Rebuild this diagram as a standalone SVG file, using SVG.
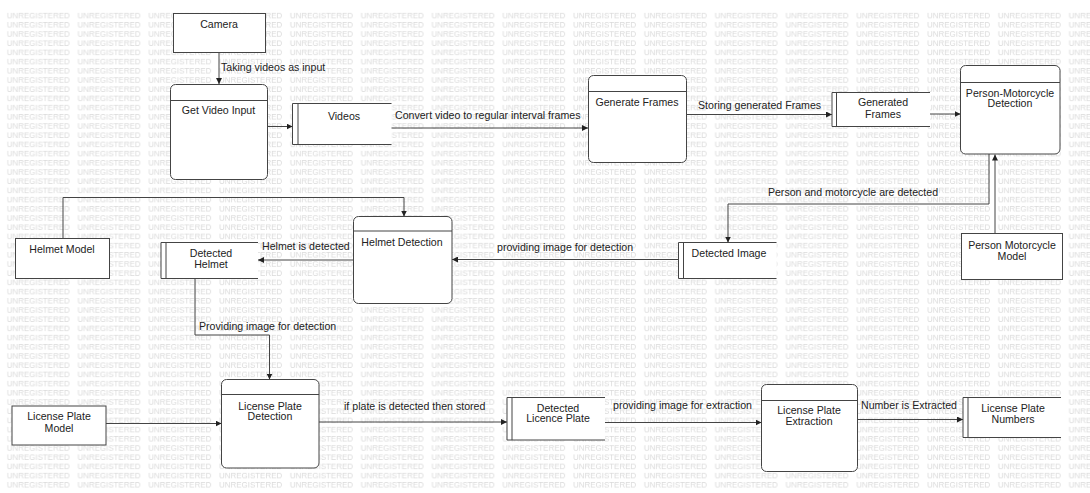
<svg xmlns="http://www.w3.org/2000/svg" width="1090" height="493" viewBox="0 0 1090 493">
<style>
.wm{font-family:"Liberation Sans",Arial,sans-serif;font-size:8px;fill:#dadada}
.t{font-family:"Liberation Sans",Arial,sans-serif;font-size:10.6px;fill:#222}
.c{text-anchor:middle}
.box{fill:#fff;stroke:#444;stroke-width:1}
.ln{fill:none;stroke:#444;stroke-width:1}
.edge{fill:none;stroke:#444;stroke-width:1;marker-end:url(#ah)}
</style>
<defs>
<marker id="ah" markerWidth="7" markerHeight="6" refX="6" refY="3" orient="auto" markerUnits="userSpaceOnUse">
<path d="M0,0 L6,3 L0,6 z" fill="#222"/>
</marker>
<pattern id="wmp" patternUnits="userSpaceOnUse" x="6.7" y="11" width="70.8" height="9.2">
<text class="wm" x="0" y="7.6" textLength="63" lengthAdjust="spacingAndGlyphs">UNREGISTERED</text>
</pattern>
</defs>
<rect x="0" y="0" width="1090" height="493" fill="#fff"/>
<rect x="6.7" y="11" width="1084" height="480" fill="url(#wmp)"/>

<g id="connectors">
<path class="edge" d="M219,53 V84"/>
<text class="t" x="221" y="70.5">Taking videos as input</text>
<path class="edge" d="M268,126.5 H292.5"/>
<path class="edge" d="M391,128 H588"/>
<text class="t" x="395" y="119">Convert video to regular interval frames</text>
<path class="edge" d="M686,114.5 H832"/>
<text class="t" x="698" y="109">Storing generated Frames</text>
<path class="edge" d="M930,114 H960.5"/>
<path class="edge" d="M989,154 V204 H728 V242.5"/>
<text class="t c" x="853" y="195.5">Person and motorcycle are detected</text>
<path class="edge" d="M995,233.5 V154.5"/>
<path class="edge" d="M678.5,259.5 H452"/>
<text class="t" x="497" y="250.5">providing image for detection</text>
<path class="edge" d="M353.5,260 H258"/>
<text class="t" x="262" y="250">Helmet is detected</text>
<path class="edge" d="M63,238.5 V197.5 H404 V216.5"/>
<path class="edge" d="M195,278.5 V335 H269.5 V379.5"/>
<text class="t" x="199" y="330">Providing image for detection</text>
<path class="edge" d="M106,423.5 H221.5"/>
<path class="edge" d="M319,422 H507"/>
<text class="t" x="344" y="409.5">if plate is detected then stored</text>
<path class="edge" d="M605,422.5 H761.5"/>
<text class="t" x="613" y="409">providing image for extraction</text>
<path class="edge" d="M857.5,419.5 H963"/>
<text class="t" x="861" y="409">Number is Extracted</text>
</g>

<g id="camera">
<rect class="box" x="173.5" y="13.5" width="92" height="39"/>
<text class="t c" x="219" y="27.8">Camera</text>
</g>

<g id="get-video-input">
<rect class="box" x="170.5" y="84.5" width="97" height="95" rx="5"/>
<line class="ln" x1="170.5" y1="100.5" x2="267.5" y2="100.5"/>
<text class="t c" x="218.5" y="114">Get Video Input</text>
</g>

<g id="videos">
<rect x="292.5" y="103.5" width="99" height="41" fill="#fff"/>
<path class="ln" d="M391.5,103.5 H292.5 V144.5 H391.5 M298,103.5 V144.5"/>
<text class="t c" x="344" y="119.5">Videos</text>
</g>

<g id="generate-frames">
<rect class="box" x="588.5" y="75.5" width="98" height="87" rx="5"/>
<line class="ln" x1="588.5" y1="91.5" x2="686.5" y2="91.5"/>
<text class="t c" x="637" y="105.5">Generate Frames</text>
</g>

<g id="generated-frames">
<rect x="832" y="92.5" width="98" height="34" fill="#fff"/>
<path class="ln" d="M930,92.5 H832 V126.5 H930 M836.5,92.5 V126.5"/>
<text class="t c" x="883" y="106">Generated</text>
<text class="t c" x="883" y="118">Frames</text>
</g>

<g id="person-motorcycle-detection">
<rect class="box" x="960.5" y="65.5" width="99.5" height="88.5" rx="5"/>
<line class="ln" x1="960.5" y1="82.5" x2="1060" y2="82.5"/>
<text class="t c" x="1010" y="96.8">Person-Motorcycle</text>
<text class="t c" x="1010" y="107">Detection</text>
</g>

<g id="person-motorcycle-model">
<rect class="box" x="961.5" y="233.5" width="101" height="46"/>
<text class="t c" x="1012" y="248.8">Person Motorcycle</text>
<text class="t c" x="1012" y="259.5">Model</text>
</g>

<g id="detected-image">
<rect x="678.5" y="242.5" width="98" height="36" fill="#fff"/>
<path class="ln" d="M776.5,242.5 H678.5 V278.5 H776.5 M683.5,242.5 V278.5"/>
<text class="t c" x="729" y="257">Detected Image</text>
</g>

<g id="helmet-detection">
<rect class="box" x="353.5" y="216.5" width="98.5" height="87" rx="5"/>
<line class="ln" x1="353.5" y1="231" x2="452" y2="231"/>
<text class="t c" x="402" y="246">Helmet Detection</text>
</g>

<g id="helmet-model">
<rect class="box" x="15.5" y="238.5" width="94" height="40"/>
<text class="t c" x="62" y="253">Helmet Model</text>
</g>

<g id="detected-helmet">
<rect x="161" y="242.5" width="97" height="36" fill="#fff"/>
<path class="ln" d="M258,242.5 H161 V278.5 H258 M166,242.5 V278.5"/>
<text class="t c" x="211" y="257">Detected</text>
<text class="t c" x="211" y="267.8">Helmet</text>
</g>

<g id="license-plate-model">
<rect class="box" x="12" y="406" width="94" height="39"/>
<text class="t c" x="59" y="420">License Plate</text>
<text class="t c" x="59" y="432">Model</text>
</g>

<g id="license-plate-detection">
<rect class="box" x="221.5" y="379.5" width="97.5" height="88.5" rx="5"/>
<line class="ln" x1="221.5" y1="394.5" x2="319" y2="394.5"/>
<text class="t c" x="270" y="409.5">License Plate</text>
<text class="t c" x="270" y="420">Detection</text>
</g>

<g id="detected-licence-plate">
<rect x="507" y="397.5" width="98" height="42.5" fill="#fff"/>
<path class="ln" d="M605,397.5 H507 V440 H605 M512,397.5 V440"/>
<text class="t c" x="558" y="411.5">Detected</text>
<text class="t c" x="558" y="422">Licence Plate</text>
</g>

<g id="license-plate-extraction">
<rect class="box" x="761.5" y="384.5" width="96" height="87" rx="5"/>
<line class="ln" x1="761.5" y1="400.5" x2="857.5" y2="400.5"/>
<text class="t c" x="809" y="414">License Plate</text>
<text class="t c" x="809" y="425">Extraction</text>
</g>

<g id="license-plate-numbers">
<rect x="963" y="397.5" width="98" height="40" fill="#fff"/>
<path class="ln" d="M1061,397.5 H963 V437.5 H1061 M968,397.5 V437.5"/>
<text class="t c" x="1013" y="412">License Plate</text>
<text class="t c" x="1013" y="423">Numbers</text>
</g>
</svg>
